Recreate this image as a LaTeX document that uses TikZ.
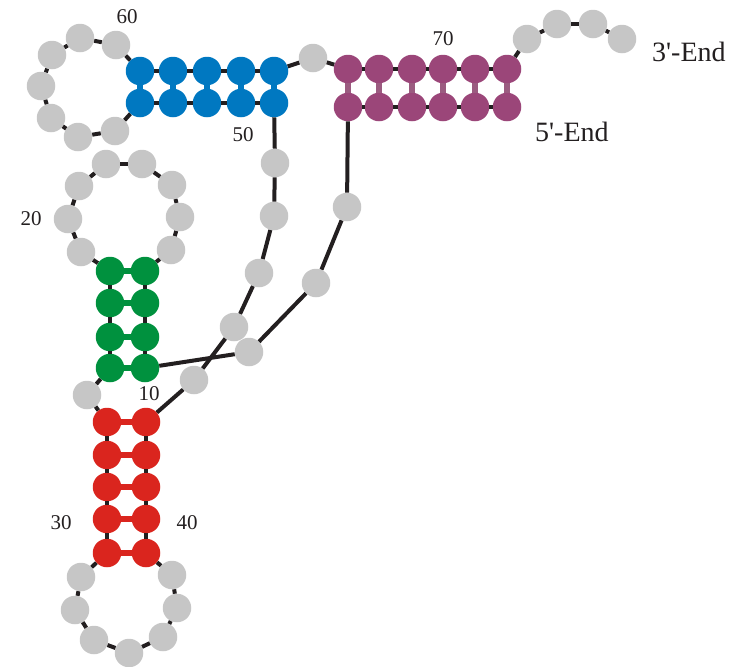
\documentclass[tikz,border=0pt]{standalone}
\usepackage{fontspec}
\newfontfamily\lab{Liberation Serif}
\definecolor{ntgray}{HTML}{C6C6C6}
\definecolor{ntblue}{HTML}{0078C1}
\definecolor{ntgreen}{HTML}{00913E}
\definecolor{ntred}{HTML}{DA251E}
\definecolor{ntpurple}{HTML}{9B4679}
\definecolor{bondpurple}{HTML}{9B5B80}
\definecolor{bbk}{HTML}{231F20}
\tikzset{
  nt/.style={circle, minimum size=28.5pt, inner sep=0pt, draw=none},
  bb/.style={draw=bbk, line width=4pt},
  bond/.style={line width=6.5pt},
  num/.style={font=\lab\fontsize{21}{21}\selectfont, text=bbk, inner sep=0pt},
  endlab/.style={font=\lab\fontsize{28}{28}\selectfont, text=bbk, inner sep=0pt},
}
\begin{document}
\begin{tikzpicture}[x=1pt,y=-1pt]
\useasboundingbox (0,0) rectangle (753,667);
\foreach \i/\x/\y/\c in {
 1/507/107/ntpurple, 2/475/107/ntpurple, 3/443/107/ntpurple, 4/412/107/ntpurple, 5/379/107/ntpurple, 6/348/107/ntpurple,
 7/347/207/ntgray, 8/316/283/ntgray, 9/249/352/ntgray,
 10/145/368/ntgreen, 11/145/337/ntgreen, 12/145/303/ntgreen, 13/145/271/ntgreen,
 14/171/250/ntgray, 15/180/217/ntgray, 16/172/185/ntgray, 17/142/164/ntgray, 18/106/164/ntgray, 19/79/186/ntgray, 20/68/219/ntgray, 21/81/252/ntgray,
 22/110/271/ntgreen, 23/110/303/ntgreen, 24/110/337/ntgreen, 25/110/368/ntgreen,
 26/87/395/ntgray,
 27/107/422/ntred, 28/107/455/ntred, 29/107/487/ntred, 30/107/519/ntred, 31/107/553/ntred,
 32/81/577/ntgray, 33/75/610/ntgray, 34/94/640/ntgray, 35/129/653/ntgray, 36/163/637/ntgray, 37/177/608/ntgray, 38/172/575/ntgray,
 39/146/553/ntred, 40/146/519/ntred, 41/146/487/ntred, 42/146/455/ntred, 43/146/422/ntred,
 44/194/380/ntgray, 45/234/327/ntgray, 46/259/273/ntgray, 47/274/216/ntgray, 48/275/163/ntgray,
 49/274/103/ntblue, 50/241/103/ntblue, 51/207/103/ntblue, 52/173/103/ntblue, 53/140/103/ntblue,
 54/115/131/ntgray, 55/78/137/ntgray, 56/51/118/ntgray, 57/41/86/ntgray, 58/52/55/ntgray, 59/80/38/ntgray, 60/116/45/ntgray,
 61/140/71/ntblue, 62/173/71/ntblue, 63/207/71/ntblue, 64/241/71/ntblue, 65/274/71/ntblue,
 66/313/58/ntgray,
 67/348/69/ntpurple, 68/379/69/ntpurple, 69/412/69/ntpurple, 70/443/69/ntpurple, 71/475/69/ntpurple, 72/507/69/ntpurple,
 73/527/39/ntgray, 74/557/24/ntgray, 75/593/24/ntgray, 76/622/39/ntgray}
 {\node[nt, fill=\c] (n\i) at (\x,\y) {};}
% backbone
\foreach \i [evaluate=\i as \j using int(\i+1)] in {1,...,75}
 {\draw[bb] (n\i) -- (n\j);}
% base pairs
\foreach \i [evaluate=\i as \j using int(73-\i)] in {1,...,6}
 {\draw[bond, draw=bondpurple] (n\i) -- (n\j);}
\foreach \i [evaluate=\i as \j using int(35-\i)] in {10,...,13}
 {\draw[bond, draw=ntgreen] (n\i) -- (n\j);}
\foreach \i [evaluate=\i as \j using int(70-\i)] in {27,...,31}
 {\draw[bond, draw=ntred] (n\i) -- (n\j);}
\foreach \i [evaluate=\i as \j using int(114-\i)] in {49,...,53}
 {\draw[bond, draw=ntblue] (n\i) -- (n\j);}
% labels
\node[num] (l10) at (149,394) {10};
\node[num] (l20) at (31,219) {20};
\node[num] (l30) at (61,523) {30};
\node[num] (l40) at (187,523) {40};
\node[num] (l50) at (243,135) {50};
\node[num] (l60) at (127,17) {60};
\node[num] (l70) at (443,39) {70};
\node[endlab, anchor=west] (e3) at (652,52) {3'-End};
\node[endlab, anchor=west] (e5) at (535,132) {5'-End};
\end{tikzpicture}
\end{document}
